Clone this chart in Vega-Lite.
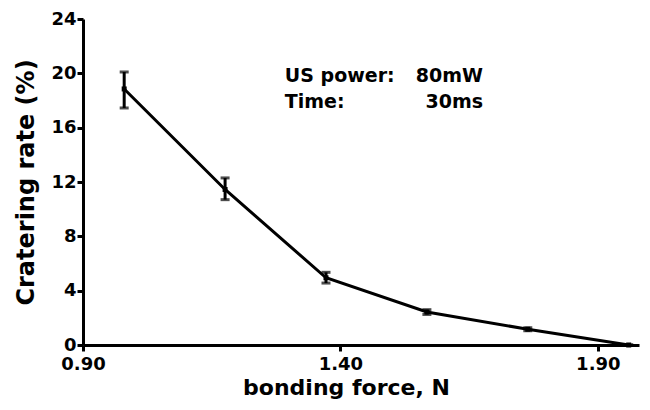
{
  "$schema": "https://vega.github.io/schema/vega-lite/v6.json",
  "width": 556,
  "height": 326,
  "autosize": {"type": "none"},
  "padding": {"left": 83, "top": 19, "right": 11, "bottom": 65},
  "background": "white",
  "config": {
    "view": {"stroke": null},
    "font": "DejaVu Sans",
    "axis": {
      "grid": false,
      "domainColor": "black",
      "domainWidth": 3,
      "tickColor": "black",
      "tickWidth": 3,
      "tickSize": 6,
      "labelFont": "DejaVu Sans",
      "labelFontWeight": "bold",
      "labelFontSize": 18,
      "labelColor": "black",
      "titleFont": "DejaVu Sans",
      "titleFontWeight": "bold",
      "titleColor": "black"
    }
  },
  "datasets": {
    "pts": [
      {"force": 0.98, "rate": 18.85, "lo": 17.45, "hi": 20.1},
      {"force": 1.176, "rate": 11.45, "lo": 10.7, "hi": 12.3},
      {"force": 1.372, "rate": 4.95, "lo": 4.56, "hi": 5.35},
      {"force": 1.568, "rate": 2.43, "lo": 2.25, "hi": 2.6},
      {"force": 1.764, "rate": 1.16, "lo": 1.05, "hi": 1.27},
      {"force": 1.96, "rate": 0.0, "lo": 0.0, "hi": 0.0}
    ],
    "notesL": [
      {"x": 1.292, "y": 19.37, "t": "US power:"},
      {"x": 1.292, "y": 17.45, "t": "Time:"}
    ],
    "notesR": [
      {"x": 1.677, "y": 19.37, "t": "80mW"},
      {"x": 1.677, "y": 17.45, "t": "30ms"}
    ]
  },
  "layer": [
    {
      "data": {"name": "pts"},
      "mark": {"type": "line", "color": "black", "strokeWidth": 3},
      "encoding": {
        "x": {
          "field": "force", "type": "quantitative",
          "scale": {"domain": [0.9, 1.98], "nice": false, "zero": false},
          "axis": {"values": [0.9, 1.4, 1.9], "format": ".2f", "title": "bonding force, N",
                   "titleFontSize": 22, "titleX": 263, "titleAlign": "center", "titlePadding": 4, "labelPadding": 4, "labelFlush": false}
        },
        "y": {
          "field": "rate", "type": "quantitative",
          "scale": {"domain": [0, 24], "nice": false},
          "axis": {"values": [0, 4, 8, 12, 16, 20, 24], "title": "Cratering rate (%)",
                   "titleFontSize": 24, "titlePadding": 12, "labelPadding": 1, "labelFlush": false}
        }
      }
    },
    {
      "data": {"name": "pts"},
      "mark": {"type": "rule", "color": "black", "strokeWidth": 3},
      "encoding": {
        "x": {"field": "force", "type": "quantitative"},
        "y": {"field": "lo", "type": "quantitative"},
        "y2": {"field": "hi"}
      }
    },
    {
      "data": {"name": "pts"},
      "mark": {"type": "tick", "color": "black", "orient": "horizontal", "size": 9, "thickness": 3},
      "encoding": {
        "x": {"field": "force", "type": "quantitative"},
        "y": {"field": "lo", "type": "quantitative"}
      }
    },
    {
      "data": {"name": "pts"},
      "mark": {"type": "tick", "color": "black", "orient": "horizontal", "size": 9, "thickness": 3},
      "encoding": {
        "x": {"field": "force", "type": "quantitative"},
        "y": {"field": "hi", "type": "quantitative"}
      }
    },
    {
      "data": {"name": "pts"},
      "mark": {"type": "point", "shape": "square", "filled": true, "color": "black", "size": 25, "opacity": 1},
      "encoding": {
        "x": {"field": "force", "type": "quantitative"},
        "y": {"field": "rate", "type": "quantitative"}
      }
    },
    {
      "data": {"name": "notesL"},
      "mark": {"type": "text", "align": "left", "baseline": "alphabetic", "font": "DejaVu Sans", "fontWeight": "bold", "fontSize": 19, "color": "black"},
      "encoding": {
        "x": {"field": "x", "type": "quantitative"},
        "y": {"field": "y", "type": "quantitative"},
        "text": {"field": "t"}
      }
    },
    {
      "data": {"name": "notesR"},
      "mark": {"type": "text", "align": "right", "baseline": "alphabetic", "font": "DejaVu Sans", "fontWeight": "bold", "fontSize": 19, "color": "black"},
      "encoding": {
        "x": {"field": "x", "type": "quantitative"},
        "y": {"field": "y", "type": "quantitative"},
        "text": {"field": "t"}
      }
    }
  ]
}
